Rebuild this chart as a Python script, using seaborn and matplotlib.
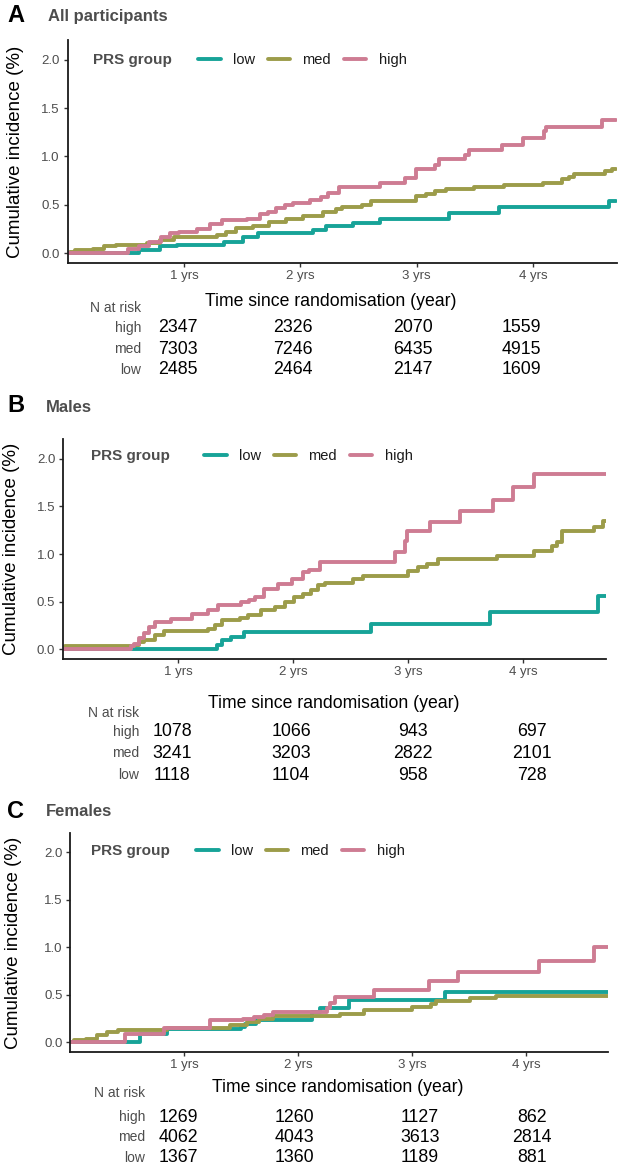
import numpy as np
import pandas as pd
import matplotlib
matplotlib.use("Agg")
import matplotlib.pyplot as plt
import matplotlib.transforms as mtransforms
from matplotlib.ticker import FormatStrFormatter
import seaborn as sns

# ---- data ----
groups = ["low", "med", "high"]
palette = {"low": "#17A398", "med": "#9C9C4A", "high": "#CE7C93"}

# A: all participants
a_high_t = [0, 0.52, 0.61, 0.70, 0.80, 0.88, 0.96, 1.11, 1.22, 1.33, 1.54, 1.65, 1.72, 1.79, 1.87, 1.94,
            2.08, 2.18, 2.24, 2.33, 2.68, 2.90, 2.99, 3.16, 3.19, 3.41, 3.45, 3.73, 3.91, 4.09, 4.11, 4.59, 4.71]
a_high_v = [0, 0.04, 0.07, 0.12, 0.17, 0.21, 0.22, 0.25, 0.30, 0.34, 0.355, 0.40, 0.43, 0.47, 0.50, 0.52,
            0.55, 0.58, 0.62, 0.68, 0.73, 0.78, 0.87, 0.91, 0.97, 1.02, 1.07, 1.12, 1.19, 1.26, 1.30, 1.38, 1.38]
a_med_t = [0, 0.02, 0.06, 0.22, 0.31, 0.42, 0.68, 0.79, 0.91, 1.28, 1.36, 1.45, 1.59, 1.73, 1.88, 2.02, 2.19,
           2.31, 2.36, 2.53, 2.61, 2.99, 3.08, 3.16, 3.25, 3.49, 3.75, 4.08, 4.25, 4.31, 4.35, 4.62, 4.68, 4.71]
a_med_v = [0, 0.017, 0.034, 0.04, 0.07, 0.086, 0.10, 0.14, 0.165, 0.19, 0.22, 0.26, 0.28, 0.32, 0.35, 0.386, 0.43,
           0.455, 0.48, 0.50, 0.535, 0.59, 0.61, 0.64, 0.66, 0.68, 0.71, 0.73, 0.765, 0.79, 0.82, 0.845, 0.87, 0.87]
a_low_t = [0, 0.61, 0.79, 0.94, 1.34, 1.51, 1.64, 2.11, 2.22, 2.45, 2.68, 3.28, 3.71, 4.65, 4.71]
a_low_v = [0, 0.035, 0.07, 0.086, 0.12, 0.165, 0.207, 0.24, 0.28, 0.31, 0.355, 0.414, 0.476, 0.535, 0.535]

# B: males
b_high_t = [0, 0.59, 0.62, 0.66, 0.70, 0.75, 0.80, 0.94, 1.12, 1.26, 1.35, 1.55, 1.62, 1.67, 1.75, 1.87, 1.99,
            2.09, 2.14, 2.23, 2.89, 2.97, 2.99, 3.19, 3.45, 3.74, 3.91, 4.09, 4.72]
b_high_v = [0, 0.03, 0.06, 0.12, 0.17, 0.23, 0.29, 0.32, 0.375, 0.41, 0.46, 0.50, 0.52, 0.55, 0.635, 0.69, 0.74,
            0.81, 0.83, 0.92, 1.02, 1.14, 1.24, 1.34, 1.45, 1.57, 1.70, 1.84, 1.84]
b_med_t = [0, 0.02, 0.62, 0.66, 0.70, 0.80, 0.88, 1.26, 1.32, 1.38, 1.54, 1.61, 1.72, 1.84, 1.93, 2.01, 2.09,
           2.16, 2.22, 2.28, 2.52, 2.61, 3.00, 3.09, 3.16, 3.26, 3.77, 4.09, 4.25, 4.29, 4.34, 4.62, 4.69, 4.72]
b_med_v = [0, 0.03, 0.05, 0.08, 0.10, 0.15, 0.19, 0.21, 0.25, 0.31, 0.33, 0.36, 0.41, 0.44, 0.50, 0.55, 0.58,
           0.625, 0.67, 0.70, 0.74, 0.77, 0.82, 0.86, 0.90, 0.95, 0.98, 1.03, 1.08, 1.13, 1.24, 1.28, 1.35, 1.35]
b_low_t = [0, 1.34, 1.38, 1.46, 1.57, 2.68, 3.71, 4.65, 4.72]
b_low_v = [0, 0.05, 0.10, 0.13, 0.177, 0.27, 0.39, 0.555, 0.555]

# C: females
c_high_t = [0, 0.48, 0.82, 1.23, 1.52, 1.61, 1.70, 1.78, 2.25, 2.28, 2.32, 2.67, 3.15, 3.40, 4.11, 4.60, 4.72]
c_high_v = [0, 0.08, 0.15, 0.23, 0.24, 0.26, 0.29, 0.32, 0.36, 0.41, 0.475, 0.55, 0.64, 0.74, 0.855, 1.0, 1.0]
c_med_t = [0, 0.03, 0.14, 0.23, 0.32, 0.42, 0.85, 1.40, 1.55, 1.66, 1.78, 2.37, 2.58, 3.00, 3.17, 3.21, 3.51, 3.74, 4.72]
c_med_v = [0, 0.02, 0.035, 0.07, 0.105, 0.13, 0.15, 0.175, 0.21, 0.245, 0.27, 0.30, 0.335, 0.37, 0.405, 0.43, 0.46, 0.49, 0.49]
c_low_t = [0, 0.61, 0.85, 1.50, 1.53, 1.63, 2.12, 2.19, 2.45, 3.29, 4.72]
c_low_v = [0, 0.08, 0.14, 0.16, 0.19, 0.235, 0.32, 0.36, 0.44, 0.53, 0.53]

# numbers at risk
risk_times = [1, 2, 3, 4]
a_risk_high = [2347, 2326, 2070, 1559]
a_risk_med = [7303, 7246, 6435, 4915]
a_risk_low = [2485, 2464, 2147, 1609]
b_risk_high = [1078, 1066, 943, 697]
b_risk_med = [3241, 3203, 2822, 2101]
b_risk_low = [1118, 1104, 958, 728]
c_risk_high = [1269, 1260, 1127, 862]
c_risk_med = [4062, 4043, 3613, 2814]
c_risk_low = [1367, 1360, 1189, 881]

xticks = [1, 2, 3, 4]
xtick_labels = ["1 yrs", "2 yrs", "3 yrs", "4 yrs"]
yticks = [0.0, 0.5, 1.0, 1.5, 2.0]


def make_df(curves):
    rows = []
    for g, (t, v) in curves.items():
        rows.append(pd.DataFrame({"time": t, "ci": v, "group": g}))
    return pd.concat(rows, ignore_index=True)


sns.set_theme(style="white")
plt.rcParams["font.family"] = ["Liberation Sans", "DejaVu Sans"]

W, H = 622, 1170
fig = plt.figure(figsize=(W / 100, H / 100), dpi=100)


def fx(px):
    return px / W


def fy(py):
    return 1 - py / H


GRAY = "#4D4D4D"

panels = [
    dict(letter="A", title="All participants",
         curves={"low": (a_low_t, a_low_v), "med": (a_med_t, a_med_v), "high": (a_high_t, a_high_v)},
         risk={"high": a_risk_high, "med": a_risk_med, "low": a_risk_low},
         box=(67.6, 40, 617, 263.3), head_y=16, title_x=48, leg_y=60, prs_x=93, leg_x=198,
         ylab_x=16, xlab=(331, 301), nrisk=(141, 308), rows_y=(328, 349, 370),
         col_dx=(-6, -8, -4, -12)),
    dict(letter="B", title="Males",
         curves={"low": (b_low_t, b_low_v), "med": (b_med_t, b_med_v), "high": (b_high_t, b_high_v)},
         risk={"high": b_risk_high, "med": b_risk_med, "low": b_risk_low},
         box=(63, 439.3, 606, 659.3), head_y=406, title_x=46, leg_y=456, prs_x=91, leg_x=204,
         ylab_x=12, xlab=(334, 703), nrisk=(139, 713), rows_y=(732, 753, 775),
         col_dx=(-6, -2, 5, 9)),
    dict(letter="C", title="Females",
         curves={"low": (c_low_t, c_low_v), "med": (c_med_t, c_med_v), "high": (c_high_t, c_high_v)},
         risk={"high": c_risk_high, "med": c_risk_med, "low": c_risk_low},
         box=(70.3, 833, 608, 1052), head_y=811, title_x=46, leg_y=851, prs_x=91, leg_x=196,
         ylab_x=14, xlab=(338, 1087), nrisk=(145, 1093), rows_y=(1117, 1137, 1158),
         col_dx=(-6, -4, 8, 6)),
]

for p in panels:
    l, t, r, b = p["box"]
    ax = fig.add_axes([fx(l), fy(b), fx(r) - fx(l), (b - t) / H])
    df = make_df(p["curves"])
    sns.lineplot(data=df, x="time", y="ci", hue="group", hue_order=groups, palette=palette,
                 estimator=None, drawstyle="steps-post", linewidth=2.8, legend=False, ax=ax)
    ax.set_xlim(0, 4.72)
    ax.set_ylim(-0.105, 2.205)
    ax.set_xticks(xticks)
    ax.set_xticklabels(xtick_labels)
    ax.set_yticks(yticks)
    ax.yaxis.set_major_formatter(FormatStrFormatter("%.1f"))
    ax.set_xlabel("")
    ax.set_ylabel("")
    for s in ["top", "right"]:
        ax.spines[s].set_visible(False)
    for s in ["left", "bottom"]:
        ax.spines[s].set_color("#1a1a1a")
        ax.spines[s].set_linewidth(1.3)
    ax.tick_params(axis="both", which="major", direction="out", length=2.6, width=1.0,
                   color="#333333", labelcolor=GRAY, labelsize=9.5, left=True, bottom=True)
    ax.tick_params(axis="x", pad=2.5)
    ax.tick_params(axis="y", pad=3)

    # legend with title to the left
    fig.text(fx(p["prs_x"]), fy(p["leg_y"]), "PRS group", fontsize=11, fontweight="bold",
             color=GRAY, ha="left", va="center")
    lines = ax.get_lines()[:3]
    leg = ax.legend(lines, groups, ncol=3, frameon=False, loc="center left",
                    bbox_to_anchor=(fx(p["leg_x"]), fy(p["leg_y"])), bbox_transform=fig.transFigure,
                    borderpad=0, borderaxespad=0, handlelength=1.55, handletextpad=0.85,
                    columnspacing=0.85, fontsize=10.5)
    for txt in leg.get_texts():
        txt.set_color("#1a1a1a")

    # headings
    fig.text(fx(7), fy(p["head_y"]), p["letter"], fontsize=17, fontweight="bold",
             color="black", ha="left", va="center")
    fig.text(fx(p["title_x"]), fy(p["head_y"] + 1), p["title"], fontsize=12, fontweight="bold",
             color=GRAY, ha="left", va="center")

    # axis titles
    fig.text(fx(p["ylab_x"]), fy((t + b) / 2), "Cumulative incidence (%)", rotation=90,
             fontsize=13.5, color="black", ha="center", va="center")
    fig.text(fx(p["xlab"][0]), fy(p["xlab"][1]), "Time since randomisation (year)",
             fontsize=12.7, color="black", ha="center", va="center")

    # risk table
    fig.text(fx(p["nrisk"][0]), fy(p["nrisk"][1]), "N at risk", fontsize=10, color=GRAY,
             ha="right", va="center")
    trans = mtransforms.blended_transform_factory(ax.transData, fig.transFigure)
    for g, yy in zip(["high", "med", "low"], p["rows_y"]):
        fig.text(fx(p["nrisk"][0]), fy(yy), g, fontsize=10, color=GRAY, ha="right", va="center")
        for xt, n, dx in zip(risk_times, p["risk"][g], p["col_dx"]):
            off = mtransforms.offset_copy(trans, fig=fig, x=dx, y=0, units="dots")
            ax.text(xt, fy(yy), str(n), transform=off, fontsize=12.8, color="black",
                    ha="center", va="center", clip_on=False)

fig.savefig("out.png", dpi=100)
